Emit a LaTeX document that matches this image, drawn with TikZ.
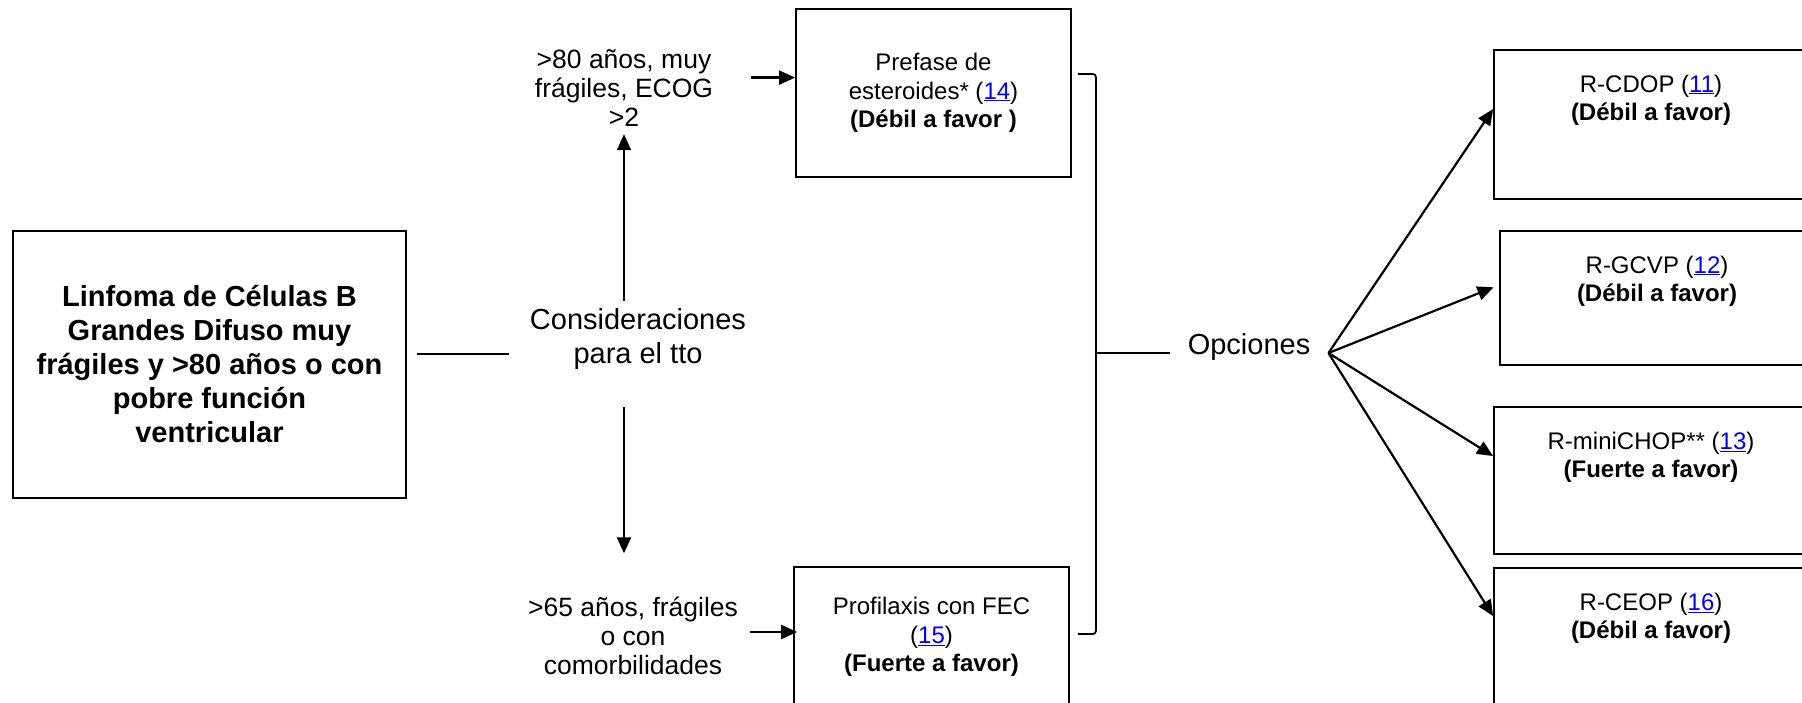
\documentclass[tikz,border=0pt]{standalone}
\usepackage{fontspec}
\setmainfont{Liberation Sans}
\usetikzlibrary{arrows.meta,calc}
% cited reference numbers: blue and underlined
\newcommand{\refnum}[1]{\textcolor{blue}{\underline{#1}}}
\begin{document}
\begin{tikzpicture}[x=1pt,y=-1pt,
  boxed/.style={draw, line width=1.8pt, rectangle, inner sep=0pt},
  ln/.style={line width=1.8pt},
  arr/.style={line width=2.2pt, -{Triangle[length=16pt,width=14pt]}},
  bigtxt/.style={font=\fontsize{29}{33.5}\selectfont, align=center, inner sep=0pt},
  midtxt/.style={font=\fontsize{26.5}{29}\selectfont, align=center, inner sep=0pt},
  boxtxt/.style={font=\fontsize{24}{28.5}\selectfont, align=center, inner sep=0pt},
]
\clip (0,0) rectangle (1802,703);
\fill[white] (0,0) rectangle (1802,703);

% starting condition
\node[boxed, bigtxt, font=\fontsize{29}{34}\selectfont\bfseries,
      minimum width=393pt, minimum height=267pt] (main) at (209.5,364.5)
  {Linfoma de Células B\\Grandes Difuso muy\\frágiles y >80 años o con\\pobre función\\ventricular};

% treatment considerations and the two patient groups
\node[bigtxt] (cons) at (638,339) {Consideraciones\\para el tto};
\node[midtxt] (hi) at (624,87.5) {>80 años, muy\\frágiles, ECOG\\>2};
\node[midtxt] (lo) at (633,635.4) {>65 años, frágiles\\o con\\comorbilidades};

% supportive measures
\node[boxed, boxtxt, minimum width=275pt, minimum height=168pt] (pre) at (933.5,93)
  {Prefase de\\esteroides* (\refnum{14})\\\textbf{(Débil a favor )}};
\node[boxed, boxtxt, minimum width=275pt, minimum height=140pt] (pro) at (931.5,637)
  {Profilaxis con FEC\\(\refnum{15})\\\textbf{(Fuerte a favor)}};

% options
\node[bigtxt, anchor=base] (opc) at (1249,355) {Opciones};

% regimens
\node[boxed, minimum width=314pt, minimum height=149pt] (cdop) at (1651,124.5) {};
\node[boxed, minimum width=314pt, minimum height=134pt] (gcvp) at (1657,298) {};
\node[boxed, minimum width=314pt, minimum height=147pt] (mini) at (1651,480.5) {};
\node[boxed, minimum width=314pt, minimum height=150pt] (ceop) at (1651,643) {};
\node[boxtxt, anchor=north] (cdopt) at ([yshift=-25.5pt]cdop.north)
  {R-CDOP (\refnum{11})\\\textbf{(Débil a favor)}};
\node[boxtxt, anchor=north] (gcvpt) at ([yshift=-25.5pt]gcvp.north)
  {R-GCVP (\refnum{12})\\\textbf{(Débil a favor)}};
\node[boxtxt, anchor=north] (minit) at ([yshift=-25.5pt]mini.north)
  {R-miniCHOP** (\refnum{13})\\\textbf{(Fuerte a favor)}};
\node[boxtxt, anchor=north] (ceopt) at ([yshift=-25.5pt]ceop.north)
  {R-CEOP (\refnum{16})\\\textbf{(Débil a favor)}};

% connectors
\coordinate (m1) at ([shift={(10pt,10.5pt)}]main.east);
\draw[ln, shorten >=21pt] (m1) -- (m1 -| cons.west);

\draw[arr, shorten <=8pt, shorten >=8pt] (hi.south |- cons.north) -- (hi.south);
\draw[arr, shorten <=38pt, shorten >=43pt] (hi.south |- cons.south) -- (hi.south |- lo.north);

\draw[arr, shorten <=38pt] ([yshift=15.4pt]pre.west -| hi.east) -- ([yshift=15.4pt]pre.west);
\draw[arr, shorten <=12pt, shorten >=-4pt] ([yshift=5pt]pro.west -| lo.east) -- ([yshift=5pt]pro.west);

% bracket joining both measures
\draw[ln, rounded corners=3pt] ([shift={(6pt,19pt)}]pre.east) -- ++(18,0) |- ([shift={(8pt,3pt)}]pro.east);
\coordinate (bm) at (1095,353);
\draw[ln] (bm) -- ([xshift=-18pt]opc.west |- bm);

% fan of options
\coordinate (fan) at ([xshift=18pt]opc.east |- bm);
\draw[arr] (fan) -- ([yshift=-60pt]cdop.north west);
\draw[arr, shorten >=6pt] (fan) -- ([yshift=-55pt]gcvp.north west);
\draw[arr] (fan) -- ([yshift=-50pt]mini.north west);
\draw[arr] (fan) -- ([yshift=-49pt]ceop.north west);
\end{tikzpicture}
\end{document}
